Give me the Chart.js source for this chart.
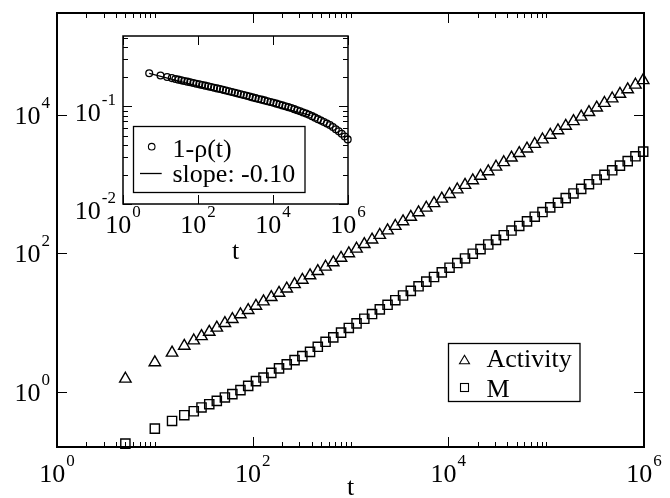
<!DOCTYPE html>
<html><head><meta charset="utf-8">
<script src="https://cdn.jsdelivr.net/npm/chart.js@4/dist/chart.umd.min.js"></script>
<style>
html,body{margin:0;padding:0;background:#fff;}
#wrap{position:relative;width:670px;height:498px;}
canvas{position:absolute;left:0;top:0;}
</style></head><body>
<div id="wrap"><canvas id="main" width="670" height="498"></canvas><canvas id="inset" width="670" height="498"></canvas></div>
<script>
// ---------- data ----------
const timeSteps = [5,10,15,20,25,30,36,43,52,62,75,90,108,129,155,186,223,268,322,386,463,556,667,801,961,1153,1384,1661,1993,2392,2870,3444,4133,4960,5952,7142,8571,10285,12342,14810,17772,21327,25592,30711,36853,44224,53068,63682,76418,91702,110042,132051,158461,190153,228184,273821,328585,394302,473162,567795,681354,817625,981150];
const activity = [1.54,2.66,3.66,4.60,5.49,6.34,7.31,8.41,9.79,11.2,13.1,15.1,17.4,20.1,23.2,26.8,30.9,35.7,41.3,47.8,55.1,63.7,73.6,85.7,99.7,116,135,157,183,213,247,288,334,389,453,527,612,713,830,966,1125,1306,1521,1770,2056,2393,2786,3236,3767,4375,5105,5929,6902,8035,9333,10864,12647,14723,17100,19907,23121,26977,31405];
const magnetization = [0.179,0.295,0.380,0.460,0.525,0.596,0.664,0.741,0.83,0.927,1.06,1.22,1.43,1.61,1.88,2.18,2.49,2.87,3.28,3.78,4.47,5.28,6.11,7.16,8.36,9.73,11.35,13.27,15.49,18.07,21.04,24.60,28.64,33.42,38.99,45.50,53.09,61.94,72.28,84.33,98.6,114.8,134.0,156.3,182.4,212.8,248.3,289.1,337.3,393.6,460.3,535.8,625.2,731.1,851.1,993.1,1158.8,1355.2,1577.6,1840.8,2142.9,2511.9,2931];
const oneMinusRho = [0.2163,0.2051,0.1982,0.1932,0.1892,0.1862,0.1832,0.1807,0.1778,0.1750,0.1722,0.1694,0.1667,0.1644,0.1618,0.1592,0.1567,0.1542,0.1517,0.1493,0.1466,0.1442,0.1419,0.1393,0.1371,0.1346,0.1321,0.1297,0.1274,0.1250,0.1227,0.1205,0.1183,0.1164,0.1143,0.1122,0.1102,0.1081,0.1059,0.1038,0.1016,0.0995,0.0975,0.0955,0.0931,0.0908,0.0885,0.0861,0.0838,0.0815,0.0789,0.0762,0.0736,0.0711,0.0687,0.0664,0.0641,0.0611,0.0581,0.0552,0.0521,0.0490,0.0457];
const slopeLineT = [5, 100000];
const slopeLineY = [0.216, 0.0803];

const mainSeriesLabels = ['Activity', 'M'];
const insetSeriesLabels = ['1-\u03C1(t)', 'slope: -0.10'];
const xAxisTitle = 't';

const mainXTickValues = [1, 100, 10000, 1000000];
const mainXTickExps = ['0', '2', '4', '6'];
const mainYTickValues = [1, 100, 10000];
const mainYTickExps = ['0', '2', '4'];
const insetXTickValues = [1, 100, 10000, 1000000];
const insetXTickExps = ['0', '2', '4', '6'];
const insetYTickValues = [0.01, 0.1];
const insetYTickExps = ['-2', '-1'];

// ---------- drawing helpers ----------
const FONT = '"Liberation Serif","Times New Roman",serif';
function toXY(xs, ys) { return xs.map((x, i) => ({ x: x, y: ys[i] })); }
function line(ctx, x1, y1, x2, y2) { ctx.beginPath(); ctx.moveTo(x1, y1); ctx.lineTo(x2, y2); ctx.stroke(); }
function drawPow(ctx, base, exp, x, y, align) {
  ctx.font = '26px ' + FONT; const wb = ctx.measureText(base).width;
  ctx.font = '17px ' + FONT; const we = ctx.measureText(exp).width;
  const total = wb + 1 + we;
  const x0 = align === 'center' ? x - total / 2 : x - total;
  ctx.textAlign = 'left'; ctx.textBaseline = 'alphabetic'; ctx.fillStyle = '#000';
  ctx.font = '26px ' + FONT; ctx.fillText(base, x0, y);
  ctx.font = '17px ' + FONT; ctx.fillText(exp, x0 + wb + 1, y - 16);
}
function minorLog(lo, hi, decadesUsed) {
  const out = [];
  for (let d = lo; d <= hi; d++) {
    if (decadesUsed && !decadesUsed.includes(d)) continue;
    for (let k = 2; k <= 10; k++) out.push(k * Math.pow(10, d));
  }
  return out;
}
function drawTriangle(ctx, cx, cy, w, h) {
  ctx.beginPath(); ctx.moveTo(cx, cy - h / 2); ctx.lineTo(cx + w / 2, cy + h / 2); ctx.lineTo(cx - w / 2, cy + h / 2); ctx.closePath(); ctx.stroke();
}

function decorPlugin(cfg) {
  return {
    id: 'decor_' + cfg.name,
    beforeDraw(chart) {
      const ctx = chart.ctx, a = chart.chartArea;
      ctx.save(); ctx.fillStyle = '#fff';
      if (cfg.fullBg) ctx.fillRect(0, 0, chart.width, chart.height);
      else ctx.fillRect(a.left, a.top, a.right - a.left, a.bottom - a.top);
      ctx.restore();
    },
    afterDraw(chart) {
      const ctx = chart.ctx, a = chart.chartArea, xs = chart.scales.x, ys = chart.scales.y;
      ctx.save();
      ctx.strokeStyle = '#000'; ctx.lineWidth = 1;
      const vt = (v, len) => { const p = Math.round(xs.getPixelForValue(v)) + 0.5; line(ctx, p, a.bottom, p, a.bottom - len); line(ctx, p, a.top, p, a.top + len); };
      const ht = (v, len) => { const p = Math.round(ys.getPixelForValue(v)) + 0.5; line(ctx, a.left, p, a.left + len, p); line(ctx, a.right, p, a.right - len, p); };
      cfg.xMajor.forEach(v => vt(v, cfg.majorLen));
      cfg.xMinor.forEach(v => vt(v, cfg.minorLen));
      cfg.yMajor.forEach(v => ht(v, cfg.majorLen));
      cfg.yMinor.forEach(v => ht(v, cfg.minorLen));
      ctx.lineWidth = cfg.frameWidth;
      ctx.strokeRect(a.left, a.top, a.right - a.left, a.bottom - a.top);
      // tick labels
      cfg.xLabels.forEach((v, i) => drawPow(ctx, '10', cfg.xExps[i], xs.getPixelForValue(v), cfg.xLabelBaseline, 'center'));
      cfg.yLabels.forEach((v, i) => drawPow(ctx, '10', cfg.yExps[i], a.left - cfg.yLabelGap, ys.getPixelForValue(v) + cfg.yLabelDrop, 'right'));
      // axis title
      ctx.font = '26px ' + FONT; ctx.textAlign = 'center'; ctx.textBaseline = 'alphabetic'; ctx.fillStyle = '#000';
      ctx.fillText(xAxisTitle, (a.left + a.right) / 2, cfg.titleBaseline);
      cfg.legend(ctx);
      ctx.restore();
    }
  };
}

// ---------- main chart ----------
new Chart(document.getElementById('main'), {
  type: 'scatter',
  data: {
    datasets: [
      { label: mainSeriesLabels[0], data: toXY(timeSteps, activity), pointStyle: 'triangle', pointRadius: 6.6, pointBorderWidth: 1.4, borderColor: '#000', pointBorderColor: '#000', pointBackgroundColor: 'rgba(0,0,0,0)', showLine: false, clip: false },
      { label: mainSeriesLabels[1], data: toXY(timeSteps, magnetization), pointStyle: 'rect', pointRadius: 6.5, pointBorderWidth: 1.4, borderColor: '#000', pointBorderColor: '#000', pointBackgroundColor: 'rgba(0,0,0,0)', showLine: false, clip: false }
    ]
  },
  options: {
    responsive: false, animation: false, events: [],
    layout: { padding: { left: 57, right: 26, top: 13, bottom: 51 } },
    plugins: { legend: { display: false }, tooltip: { enabled: false } },
    scales: {
      x: { type: 'logarithmic', min: 1, max: 1000000, display: false },
      y: { type: 'logarithmic', min: 0.16, max: 294000, display: false }
    }
  },
  plugins: [decorPlugin({
    name: 'main', fullBg: true, majorLen: 10, minorLen: 5, frameWidth: 2,
    xMajor: mainXTickValues, xMinor: minorLog(0, 4, [0, 2, 4]),
    yMajor: mainYTickValues, yMinor: [],
    xLabels: mainXTickValues, xExps: mainXTickExps, xLabelBaseline: 482,
    yLabels: mainYTickValues, yExps: mainYTickExps, yLabelGap: 7, yLabelDrop: 9,
    titleBaseline: 495,
    legend(ctx) {
      ctx.lineWidth = 1.3; ctx.strokeStyle = '#000';
      ctx.strokeRect(448.5, 343.5, 131.5, 58);
      ctx.lineWidth = 1.1;
      drawTriangle(ctx, 464.5, 359.5, 10, 8.5);
      ctx.strokeRect(460.5, 383.5, 8, 8);
      ctx.font = '26px ' + FONT; ctx.textAlign = 'left'; ctx.textBaseline = 'alphabetic'; ctx.fillStyle = '#000';
      ctx.fillText(mainSeriesLabels[0], 486.5, 367);
      ctx.fillText(mainSeriesLabels[1], 486.5, 396.5);
    }
  })]
});

// ---------- inset chart ----------
new Chart(document.getElementById('inset'), {
  type: 'scatter',
  data: {
    datasets: [
      { label: insetSeriesLabels[1], data: toXY(slopeLineT, slopeLineY), showLine: true, borderColor: '#000', borderWidth: 1.2, pointRadius: 0 },
      { label: insetSeriesLabels[0], data: toXY(timeSteps, oneMinusRho), pointStyle: 'circle', pointRadius: 3.4, pointBorderWidth: 1.3, borderColor: '#000', pointBorderColor: '#000', pointBackgroundColor: 'rgba(0,0,0,0)', showLine: false, clip: false }
    ]
  },
  options: {
    responsive: false, animation: false, events: [],
    layout: { padding: { left: 123, right: 322, top: 36, bottom: 294 } },
    plugins: { legend: { display: false }, tooltip: { enabled: false } },
    scales: {
      x: { type: 'logarithmic', min: 1, max: 1000000, display: false },
      y: { type: 'logarithmic', min: 0.01, max: 0.52, display: false }
    }
  },
  plugins: [decorPlugin({
    name: 'inset', fullBg: false, majorLen: 9, minorLen: 5, frameWidth: 1.5,
    xMajor: insetXTickValues, xMinor: [],
    yMajor: insetYTickValues, yMinor: [0.02,0.03,0.04,0.05,0.06,0.07,0.08,0.09,0.2,0.3,0.4,0.5],
    xLabels: insetXTickValues, xExps: insetXTickExps, xLabelBaseline: 233,
    yLabels: insetYTickValues, yExps: insetYTickExps, yLabelGap: 7, yLabelDrop: 15,
    titleBaseline: 259,
    legend(ctx) {
      ctx.lineWidth = 1.3; ctx.strokeStyle = '#000';
      ctx.strokeRect(133.5, 126.5, 171.5, 66);
      ctx.lineWidth = 1.1;
      ctx.beginPath(); ctx.arc(151.7, 146.7, 3.3, 0, Math.PI * 2); ctx.stroke();
      ctx.lineWidth = 1.3;
      line(ctx, 140, 173.5, 161.7, 173.5);
      ctx.font = '26px ' + FONT; ctx.textAlign = 'left'; ctx.textBaseline = 'alphabetic'; ctx.fillStyle = '#000';
      ctx.fillText(insetSeriesLabels[0], 172.5, 156.5);
      ctx.fillText(insetSeriesLabels[1], 172.5, 181.5);
    }
  })]
});
</script>
</body></html>
